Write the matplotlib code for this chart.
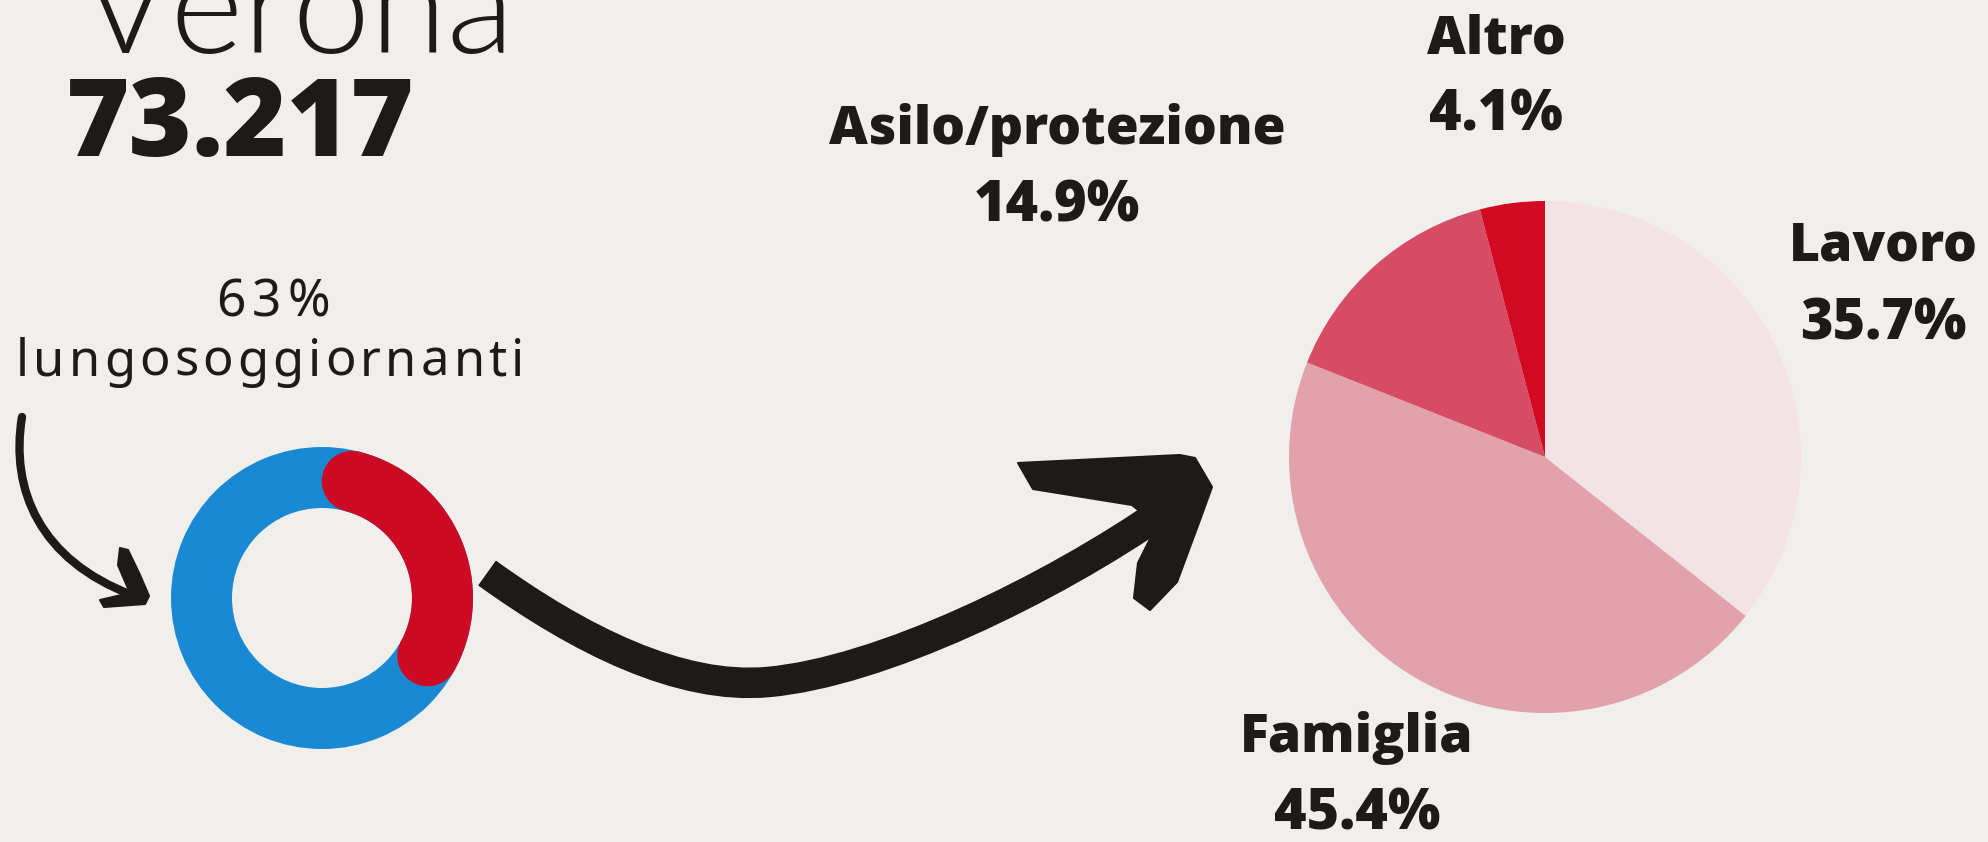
import numpy as np
import matplotlib.pyplot as plt
from matplotlib import font_manager as fm
from matplotlib.path import Path
from matplotlib.patches import PathPatch, Polygon

# dati
citta = 'Verona'
totale = '73.217'
quota_lungo = 63          # % lungosoggiornanti
motivi = ['Lavoro', 'Famiglia', 'Asilo/protezione', 'Altro']
quote = [35.7, 45.4, 14.9, 4.1]

# stile
W, H = 1988, 842
bg = '#f0efec'
ink = '#1d1a1a'
blu = '#1889d2'
rosso = '#cc0a24'
colori = ['#f4e3e5', '#e2a2ac', '#d64c65', '#d10a22']

fig = plt.figure(figsize=(W / 100, H / 100), dpi=100, facecolor=bg)
rend = fig.canvas.get_renderer()

# asse "foglio" in pixel (y verso il basso)
ax = fig.add_axes([0, 0, 1, 1])
ax.set_xlim(0, W)
ax.set_ylim(H, 0)
ax.axis('off')


def box(cx, cy, r):
    return [(cx - r) / W, 1 - (cy + r) / H, 2 * r / W, 2 * r / H]


def spaced(x, y, s, gap, **kw):
    # testo con spaziatura tra lettere
    ws = []
    for ch in s:
        t = ax.text(0, 0, ch, **kw)
        ws.append(t.get_window_extent(rend).width)
        t.remove()
    cx = x - (sum(ws) + gap * (len(s) - 1)) / 2
    for ch, w in zip(s, ws):
        ax.text(cx, y, ch, ha='left', va='center', **kw)
        cx += w + gap


# font leggero per il titolo, se c'e'
light = None
for fam in ['Lato', 'Roboto', 'Open Sans', 'Noto Sans', 'Inter']:
    for f in fm.fontManager.ttflist:
        if f.name == fam and f.weight == 300 and f.style == 'normal':
            light = fm.FontProperties(fname=f.fname)
            break
    if light is not None:
        break
if light is None:
    light = fm.FontProperties(family='Lato', weight='normal')

# titolo: larghezza come l'originale
t = ax.text(79, 53, citta, fontproperties=light, color=ink, ha='left', va='baseline')
t.set_fontsize(100)
w = t.get_window_extent(rend).width
t.set_fontsize(100 * 435 / w)
ax.text(66, 156, totale, fontsize=78, family='Open Sans', fontweight='heavy',
        color=ink, ha='left', va='baseline')

# ciambella
spaced(273, 303, f'{quota_lungo}%', 6, fontsize=37, family='Noto Sans',
       fontweight='medium', color=ink)
spaced(270, 362, 'lungosoggiornanti', 4.2, fontsize=36.5, family='Noto Sans',
       fontweight='medium', color=ink)

r_out, r_in = 151, 90
axd = fig.add_axes(box(322, 598, r_out))
axd.pie([100], radius=1, colors=[blu], startangle=90,
        wedgeprops=dict(width=1 - r_in / r_out, linewidth=0))
r_mid = (1 + r_in / r_out) / 2
cap = np.degrees((1 - r_in / r_out) / 2 / r_mid)
a = np.radians(np.linspace(90 - cap, 90 - 3.6 * (100 - quota_lungo) + cap, 200))
axd.plot(r_mid * np.cos(a), r_mid * np.sin(a), color=rosso,
         lw=(r_out - r_in) * 0.72, solid_capstyle='round')
axd.set_xlim(-1, 1)
axd.set_ylim(-1, 1)
axd.set_aspect('equal')
axd.axis('off')

# torta motivi
axp = fig.add_axes(box(1545, 457, 256))
axp.pie(quote, colors=colori, startangle=90, counterclock=False,
        wedgeprops=dict(linewidth=0))
axp.set_xlim(-1, 1)
axp.set_ylim(-1, 1)
axp.set_aspect('equal')
axp.axis('off')

pos = {'Lavoro': (1883, 247, 325), 'Famiglia': (1357, 738, 815),
       'Asilo/protezione': (1057, 130, 207), 'Altro': (1496, 40, 116)}
for m, q in zip(motivi, quote):
    x, y1, y2 = pos[m]
    ax.text(x, y1, m, fontsize=38.5, family='Open Sans', fontweight='heavy',
            color=ink, ha='center', va='center')
    ax.text(x, y2, f'{q}%', fontsize=40, family='Open Sans', fontweight='heavy',
            color=ink, ha='center', va='center')

# freccia piccola
p = Path([(22, 417), (10, 490), (40, 560), (132, 595)],
         [Path.MOVETO, Path.CURVE4, Path.CURVE4, Path.CURVE4])
ax.add_patch(PathPatch(p, fc='none', ec=ink, lw=6, capstyle='round'))
ax.add_patch(Polygon([(120, 548), (128, 550), (140, 575), (149, 596), (145, 604),
                      (104, 607), (100, 600), (130, 593), (118, 565)],
                     closed=True, fc=ink, ec=ink, lw=1.5, joinstyle='round'))

# freccia grande
p = Path([(487, 573), (580, 640), (680, 690), (768, 682),
          (880, 672), (1050, 590), (1165, 510)],
         [Path.MOVETO, Path.CURVE4, Path.CURVE4, Path.CURVE4,
          Path.CURVE4, Path.CURVE4, Path.CURVE4])
ax.add_patch(PathPatch(p, fc='none', ec=ink, lw=22, capstyle='butt'))
ax.add_patch(Polygon([(1018, 463), (1180, 455), (1195, 458), (1212, 487),
                      (1200, 520), (1177, 582), (1150, 610), (1134, 598),
                      (1138, 563), (1157, 525), (1132, 505), (1033, 489)],
                     closed=True, fc=ink, ec=ink, lw=1.5, joinstyle='round'))

fig.savefig('out.png', dpi=100, facecolor=bg)
